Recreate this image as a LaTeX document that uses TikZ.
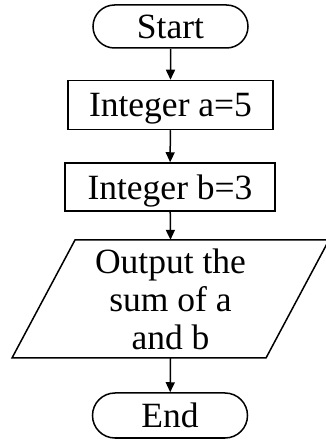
\documentclass[tikz,border=0pt]{standalone}
\usepackage{fontspec}
\setmainfont{Liberation Serif}
\usetikzlibrary{shapes.misc,arrows.meta}
\begin{document}
\begin{tikzpicture}[x=1pt,y=1pt,
  every node/.style={font=\fontsize{35.5}{38}\selectfont, inner sep=0pt, text depth=0pt},
  term/.style={rounded rectangle, draw, line width=1.5pt, minimum width=155pt, minimum height=43pt},
  proc/.style={rectangle, draw, line width=1.5pt, minimum height=49pt},
  flow/.style={line width=1.5pt, -{Triangle[length=10pt,width=9pt]}}
]
\useasboundingbox (0,0) rectangle (325,440);
\node[term] (start) at (170.5,413.5) {Start};
\node[proc, minimum width=205pt] (a) at (170.5,335) {Integer a=5};
\node[proc, minimum width=210pt, minimum height=48pt] (b) at (170,253) {Integer b=3};
\node[align=center, minimum height=118pt, minimum width=10pt] (out) at (170.5,141) {Output the\\sum of a\\and b};
\coordinate (p1) at (75,200);
\coordinate (p2) at (329,200);
\coordinate (p3) at (266,82);
\coordinate (p4) at (12,82);
\draw[line width=1.5pt] (p1) -- (p2) -- (p3) -- (p4) -- cycle;
\node[term, minimum height=45pt] (end) at (170,24.5) {End};
\draw[flow] (start) -- (a);
\draw[flow] (a) -- (b);
\draw[flow] (b) -- (out.north);
\draw[flow] (out.south) -- (end);
\end{tikzpicture}
\end{document}
